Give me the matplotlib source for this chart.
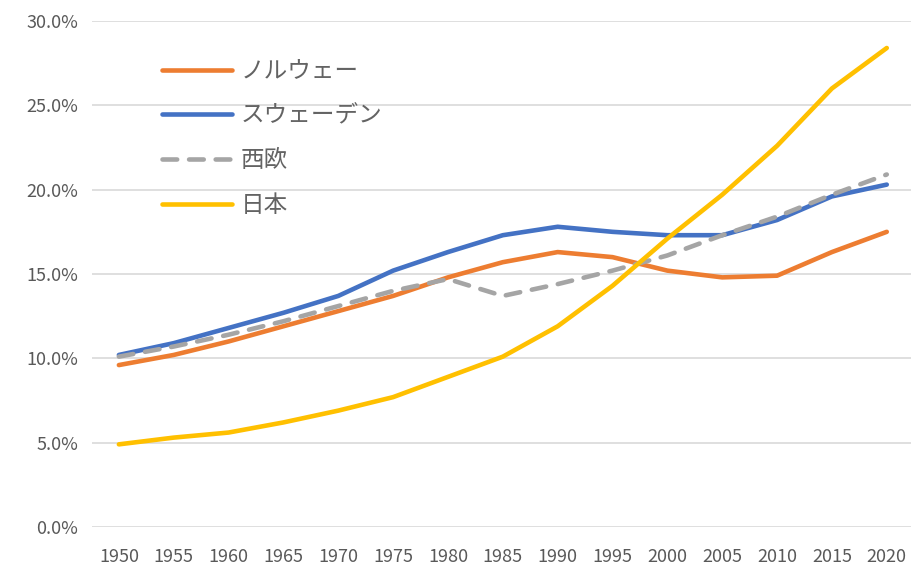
import matplotlib.pyplot as plt
from matplotlib.ticker import FuncFormatter

plt.rcParams['font.family'] = ['Noto Sans CJK JP', 'DejaVu Sans']

years = [1950, 1955, 1960, 1965, 1970, 1975, 1980, 1985,
         1990, 1995, 2000, 2005, 2010, 2015, 2020]

norway = [9.6, 10.2, 11.0, 11.9, 12.8, 13.7, 14.8, 15.7,
          16.3, 16.0, 15.2, 14.8, 14.9, 16.3, 17.5]
sweden = [10.2, 10.9, 11.8, 12.7, 13.7, 15.2, 16.3, 17.3,
          17.8, 17.5, 17.3, 17.3, 18.2, 19.6, 20.3]
w_europe = [10.1, 10.7, 11.4, 12.2, 13.1, 14.0, 14.7, 13.7,
            14.4, 15.2, 16.1, 17.3, 18.4, 19.7, 20.9]
japan = [4.9, 5.3, 5.6, 6.2, 6.9, 7.7, 8.9, 10.1,
         11.9, 14.3, 17.1, 19.7, 22.6, 26.0, 28.4]

grey_text = '#595959'

fig = plt.figure(figsize=(9.12, 5.68), dpi=100)
ax = fig.add_axes([92 / 912, 41 / 568, 820 / 912, 506 / 568])

ax.plot(years, norway, color='#ED7D31', lw=3.3, solid_capstyle='round', label='ノルウェー')
ax.plot(years, sweden, color='#4472C4', lw=3.3, solid_capstyle='round', label='スウェーデン')
ax.plot(years, w_europe, color='#A5A5A5', lw=3.3, dash_capstyle='round',
        dashes=(3.2, 2.6), label='西欧')
ax.plot(years, japan, color='#FFC000', lw=3.3, solid_capstyle='round', label='日本')

ax.set_xlim(1947.55, 2022.3)
ax.set_ylim(0, 30)
ax.set_xticks(years)
ax.set_yticks([0, 5, 10, 15, 20, 25, 30])
ax.yaxis.set_major_formatter(FuncFormatter(lambda v, p: f'{v:.1f}%'))

ax.grid(axis='y', color='#D9D9D9', lw=1.2)
ax.set_axisbelow(True)
for s in ax.spines.values():
    s.set_visible(False)
ax.tick_params(length=0, labelsize=13, labelcolor=grey_text)
ax.tick_params(axis='x', pad=15)
ax.tick_params(axis='y', pad=10)

leg = ax.legend(loc='upper left', bbox_to_anchor=(0.06, 0.965), frameon=False,
                fontsize=17, handlelength=2.95, handletextpad=0.38, labelspacing=0.92)
for t in leg.get_texts():
    t.set_color('#636363')

fig.savefig('out.png')
